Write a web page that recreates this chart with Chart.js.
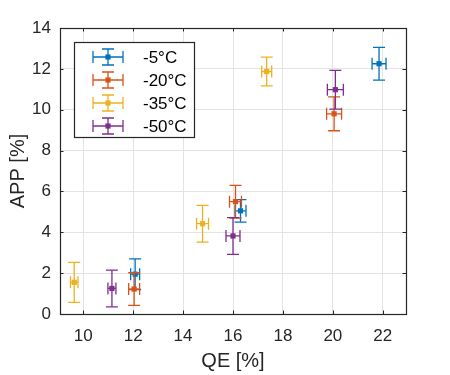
<!DOCTYPE html>
<html>
<head>
<meta charset="utf-8">
<script src="https://cdn.jsdelivr.net/npm/chart.js@4/dist/chart.umd.min.js"></script>
<style>
html,body{margin:0;padding:0;background:#fff;}
#wrap{width:450px;height:375px;position:relative;}
</style>
</head>
<body>
<div id="wrap"><canvas id="c" width="450" height="375"></canvas></div>
<script>
// ---- data ----
const seriesLabels = ['-5°C', '-20°C', '-35°C', '-50°C'];
const seriesColors = ['#0072BD', '#D95319', '#EDB120', '#7E2F8E'];

const qe5 = [12.08, 16.3, 21.85];
const app5 = [1.95, 5.05, 12.25];
const qeErr5 = [0.18, 0.22, 0.28];
const appErr5 = [0.75, 0.55, 0.8];

const qe20 = [12.04, 16.1, 20.05];
const app20 = [1.22, 5.5, 9.8];
const qeErr20 = [0.22, 0.24, 0.3];
const appErr20 = [0.8, 0.8, 0.83];

const qe35 = [9.64, 14.78, 17.35];
const app35 = [1.55, 4.42, 11.87];
const qeErr35 = [0.15, 0.24, 0.2];
const appErr35 = [0.98, 0.9, 0.7];

const qe50 = [11.15, 16.0, 20.1];
const app50 = [1.25, 3.82, 10.98];
const qeErr50 = [0.16, 0.28, 0.32];
const appErr50 = [0.9, 0.9, 0.95];

const xTicks = [10, 12, 14, 16, 18, 20, 22];
const yTicks = [0, 2, 4, 6, 8, 10, 12, 14];
const xTitle = 'QE [%]';
const yTitle = 'APP [%]';

// ---- build ----
const qeAll = [qe5, qe20, qe35, qe50];
const appAll = [app5, app20, app35, app50];
const qeErrAll = [qeErr5, qeErr20, qeErr35, qeErr50];
const appErrAll = [appErr5, appErr20, appErr35, appErr50];

const datasets = seriesLabels.map((lab, i) => ({
  label: lab,
  data: qeAll[i].map((x, j) => ({x: x, y: appAll[i][j]})),
  xErr: qeErrAll[i],
  yErr: appErrAll[i],
  borderColor: seriesColors[i],
  backgroundColor: seriesColors[i],
  pointStyle: 'rect',
  pointRadius: 2.6,
  pointBorderWidth: 0,
  showLine: false
}));

const FONT = "'Liberation Sans', Arial, Helvetica, sans-serif";
const CAP = 6;

function drawErrorSymbol(ctx, cx, cy, hx, hy, color) {
  ctx.save();
  ctx.strokeStyle = color;
  ctx.lineWidth = 1.3;
  ctx.beginPath();
  // vertical
  ctx.moveTo(cx, cy - hy); ctx.lineTo(cx, cy + hy);
  ctx.moveTo(cx - CAP, cy - hy); ctx.lineTo(cx + CAP, cy - hy);
  ctx.moveTo(cx - CAP, cy + hy); ctx.lineTo(cx + CAP, cy + hy);
  // horizontal
  ctx.moveTo(cx - hx, cy); ctx.lineTo(cx + hx, cy);
  ctx.moveTo(cx - hx, cy - CAP); ctx.lineTo(cx - hx, cy + CAP);
  ctx.moveTo(cx + hx, cy - CAP); ctx.lineTo(cx + hx, cy + CAP);
  ctx.stroke();
  ctx.restore();
}

const errorBarPlugin = {
  id: 'errorBars',
  afterDatasetsDraw(chart) {
    const ctx = chart.ctx;
    const xs = chart.scales.x, ys = chart.scales.y;
    chart.data.datasets.forEach((ds, di) => {
      ds.data.forEach((p, j) => {
        const cx = xs.getPixelForValue(p.x);
        const cy = ys.getPixelForValue(p.y);
        const x0 = xs.getPixelForValue(p.x - ds.xErr[j]);
        const x1 = xs.getPixelForValue(p.x + ds.xErr[j]);
        const y0 = ys.getPixelForValue(p.y + ds.yErr[j]);
        const y1 = ys.getPixelForValue(p.y - ds.yErr[j]);
        ctx.save();
        ctx.strokeStyle = ds.borderColor;
        ctx.lineWidth = 1.3;
        ctx.beginPath();
        ctx.moveTo(cx, y0); ctx.lineTo(cx, y1);
        ctx.moveTo(cx - CAP, y0); ctx.lineTo(cx + CAP, y0);
        ctx.moveTo(cx - CAP, y1); ctx.lineTo(cx + CAP, y1);
        ctx.moveTo(x0, cy); ctx.lineTo(x1, cy);
        ctx.moveTo(x0, cy - CAP); ctx.lineTo(x0, cy + CAP);
        ctx.moveTo(x1, cy - CAP); ctx.lineTo(x1, cy + CAP);
        ctx.stroke();
        ctx.fillStyle = ds.backgroundColor;
        const s = 2.6;
        ctx.fillRect(cx - s, cy - s, 2 * s, 2 * s);
        ctx.restore();
      });
    });
  }
};

const boxPlugin = {
  id: 'boxAndLegend',
  afterDraw(chart) {
    const ctx = chart.ctx;
    const a = chart.chartArea;
    const xs = chart.scales.x, ys = chart.scales.y;
    ctx.save();
    // inward ticks
    ctx.strokeStyle = '#262626';
    ctx.lineWidth = 1;
    ctx.beginPath();
    xTicks.forEach(v => {
      const px = Math.round(xs.getPixelForValue(v)) + 0.5;
      ctx.moveTo(px, a.bottom); ctx.lineTo(px, a.bottom - 3.5);
      ctx.moveTo(px, a.top); ctx.lineTo(px, a.top + 3.5);
    });
    yTicks.forEach(v => {
      const py = Math.round(ys.getPixelForValue(v)) + 0.5;
      ctx.moveTo(a.left, py); ctx.lineTo(a.left + 3.5, py);
      ctx.moveTo(a.right, py); ctx.lineTo(a.right - 3.5, py);
    });
    ctx.stroke();
    // box
    ctx.strokeStyle = '#262626';
    ctx.lineWidth = 1.2;
    ctx.strokeRect(Math.round(a.left) + 0.5, Math.round(a.top) + 0.5,
      Math.round(a.right - a.left), Math.round(a.bottom - a.top));
    // legend
    const lx = a.left + 14, ly = a.top + 14, lw = 120, lh = 95;
    ctx.fillStyle = '#ffffff';
    ctx.fillRect(lx, ly, lw, lh);
    ctx.strokeStyle = '#262626';
    ctx.lineWidth = 1.2;
    ctx.strokeRect(Math.round(lx) + 0.5, Math.round(ly) + 0.5, lw, lh);
    ctx.font = '17px ' + FONT;
    ctx.textBaseline = 'middle';
    ctx.textAlign = 'left';
    seriesLabels.forEach((lab, i) => {
      const cy = ly + 15 + i * 23;
      const cx = lx + 34;
      drawErrorSymbol(ctx, cx, cy, 15, 8, seriesColors[i]);
      ctx.fillStyle = seriesColors[i];
      ctx.fillRect(cx - 2.6, cy - 2.6, 5.2, 5.2);
      ctx.fillStyle = '#000000';
      ctx.fillText(lab, lx + 69, cy + 1);
    });
    ctx.restore();
  }
};

new Chart(document.getElementById('c'), {
  type: 'scatter',
  data: { datasets: datasets },
  options: {
    responsive: false,
    animation: false,
    devicePixelRatio: 1,
    layout: { padding: { left: 0, right: 44, top: 28, bottom: 0 } },
    plugins: { legend: { display: false }, tooltip: { enabled: false } },
    elements: { point: { radius: 0 } },
    scales: {
      x: {
        type: 'linear',
        min: 9.07, max: 22.93,
        afterBuildTicks(s) { s.ticks = xTicks.map(v => ({value: v})); },
        afterFit(s) { s.height = 61; },
        grid: { color: '#e3e3e3', lineWidth: 1, drawTicks: false },
        border: { display: false },
        ticks: { color: '#262626', font: { family: FONT, size: 17 }, padding: 12 },
        title: { display: true, text: xTitle, color: '#262626', font: { family: FONT, size: 20 }, padding: { top: 0, bottom: 2 } }
      },
      y: {
        type: 'linear',
        min: 0, max: 14,
        afterBuildTicks(s) { s.ticks = yTicks.map(v => ({value: v})); },
        afterFit(s) { s.width = 60; },
        grid: { color: '#e3e3e3', lineWidth: 1, drawTicks: false },
        border: { display: false },
        ticks: { color: '#262626', font: { family: FONT, size: 17 }, padding: 9 },
        title: { display: true, text: yTitle, color: '#262626', font: { family: FONT, size: 20 }, padding: { top: 6, bottom: 0 } }
      }
    }
  },
  plugins: [errorBarPlugin, boxPlugin]
});
</script>
</body>
</html>
